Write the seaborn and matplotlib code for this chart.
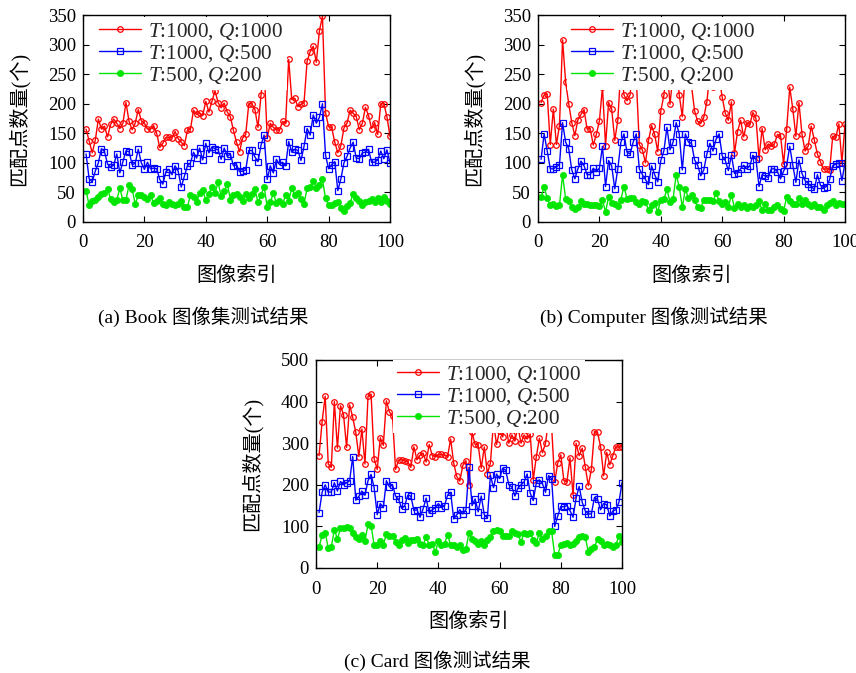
import numpy as np
import pandas as pd
import seaborn as sns
import matplotlib
matplotlib.use("Agg")
import matplotlib.pyplot as plt

# ---------------- data ----------------
image_index = list(range(1, 101))

book_t1000_q1000 = [157, 137, 117, 138, 174, 157, 162, 144, 165, 174,
                    167, 158, 167, 202, 170, 156, 167, 190, 171, 167,
                    157, 157, 163, 150, 126, 133, 143, 143, 142, 153,
                    141, 135, 129, 155, 157, 189, 182, 184, 180, 204,
                    186, 204, 222, 202, 193, 201, 186, 178, 155, 135,
                    119, 142, 148, 200, 200, 190, 160, 215, 262, 142,
                    167, 160, 156, 155, 170, 167, 275, 207, 209, 195,
                    199, 202, 272, 288, 297, 270, 323, 348, 185, 161,
                    160, 135, 117, 129, 159, 167, 189, 184, 178, 156,
                    167, 194, 180, 158, 168, 148, 200, 200, 178, 145]
book_t1000_q500 = [115, 73, 68, 86, 100, 124, 119, 98, 93, 96,
                   115, 83, 102, 120, 119, 97, 99, 123, 100, 89,
                   101, 90, 91, 90, 72, 64, 85, 89, 80, 95,
                   86, 59, 77, 95, 100, 118, 108, 125, 105, 133,
                   117, 127, 124, 122, 106, 125, 111, 115, 95, 97,
                   85, 86, 88, 121, 121, 110, 102, 130, 147, 72,
                   95, 83, 106, 97, 101, 95, 136, 118, 123, 121,
                   104, 128, 158, 147, 181, 167, 177, 200, 113, 90,
                   97, 102, 53, 73, 100, 111, 125, 135, 108, 107,
                   117, 118, 123, 101, 101, 105, 120, 107, 122, 100]
book_t500_q200 = [53, 28, 35, 38, 42, 47, 49, 56, 39, 33,
                  37, 57, 37, 38, 62, 55, 31, 45, 45, 42,
                  39, 45, 32, 36, 41, 31, 28, 33, 31, 28,
                  31, 35, 25, 25, 46, 43, 33, 49, 54, 37,
                  47, 60, 49, 67, 44, 52, 65, 38, 46, 48,
                  42, 36, 48, 40, 48, 56, 33, 46, 60, 25,
                  33, 49, 32, 35, 30, 45, 36, 57, 45, 49,
                  39, 31, 57, 59, 69, 58, 63, 72, 40, 28,
                  29, 32, 34, 24, 18, 27, 32, 48, 40, 36,
                  28, 33, 35, 39, 34, 40, 33, 43, 36, 30]

computer_t1000_q1000 = [202, 215, 216, 131, 191, 131, 163, 308, 237, 200,
                        168, 146, 173, 182, 190, 157, 158, 130, 148, 171,
                        228, 129, 202, 191, 138, 172, 262, 215, 205, 215,
                        268, 245, 131, 122, 100, 138, 163, 148, 119, 188,
                        214, 262, 199, 252, 270, 215, 178, 255, 242, 230,
                        188, 170, 167, 177, 203, 252, 229, 262, 245, 211,
                        184, 172, 203, 116, 153, 172, 144, 168, 165, 185,
                        175, 108, 158, 122, 132, 128, 132, 148, 146, 98,
                        157, 228, 191, 145, 202, 148, 120, 128, 162, 139,
                        115, 102, 89, 90, 88, 145, 143, 166, 100, 165]
computer_t1000_q500 = [106, 149, 120, 90, 90, 93, 97, 168, 135, 124,
                       88, 73, 90, 103, 95, 80, 80, 91, 85, 91,
                       128, 60, 104, 95, 56, 90, 135, 149, 118, 115,
                       135, 149, 90, 80, 72, 63, 95, 80, 68, 104,
                       120, 160, 122, 135, 168, 149, 88, 149, 135, 133,
                       105, 96, 78, 88, 115, 133, 120, 140, 149, 112,
                       104, 87, 113, 82, 83, 90, 96, 90, 95, 113,
                       106, 60, 80, 78, 75, 90, 90, 85, 73, 86,
                       96, 128, 96, 67, 105, 82, 70, 65, 60, 55,
                       80, 62, 58, 60, 72, 95, 98, 100, 70, 100]
computer_t500_q200 = [42, 60, 40, 28, 30, 27, 28, 80, 39, 35,
                      25, 22, 25, 35, 30, 30, 29, 28, 28, 27,
                      37, 17, 42, 32, 30, 27, 38, 60, 39, 40,
                      40, 33, 30, 36, 34, 20, 28, 32, 17, 38,
                      39, 55, 34, 39, 80, 60, 25, 56, 40, 45,
                      37, 25, 24, 38, 37, 38, 35, 49, 35, 30,
                      34, 25, 46, 24, 30, 26, 28, 24, 27, 25,
                      28, 35, 20, 30, 20, 20, 25, 28, 22, 18,
                      43, 36, 30, 30, 41, 30, 38, 30, 27, 30,
                      26, 25, 20, 28, 32, 35, 28, 32, 30, 30]

card_t1000_q1000 = [270, 352, 413, 250, 242, 400, 288, 390, 368, 290,
                    392, 362, 326, 268, 334, 250, 413, 418, 263, 237,
                    313, 295, 402, 375, 365, 237, 260, 260, 258, 255,
                    242, 291, 260, 271, 276, 255, 297, 270, 268, 273,
                    273, 272, 268, 310, 252, 220, 209, 247, 258, 200,
                    326, 297, 296, 240, 291, 227, 252, 350, 297, 330,
                    315, 345, 300, 320, 305, 340, 300, 320, 310, 322,
                    212, 268, 312, 277, 300, 355, 340, 207, 252, 272,
                    210, 207, 265, 175, 300, 270, 288, 243, 198, 238,
                    328, 326, 292, 222, 278, 248, 270, 292, 290, 292]
card_t1000_q500 = [133, 182, 200, 182, 183, 205, 185, 208, 200, 205,
                   210, 268, 163, 172, 185, 175, 210, 225, 193, 128,
                   155, 145, 210, 195, 200, 173, 165, 143, 150, 175,
                   173, 138, 140, 122, 142, 168, 132, 140, 145, 155,
                   145, 150, 175, 182, 118, 128, 140, 130, 140, 242,
                   150, 166, 135, 173, 128, 120, 223, 193, 226, 215,
                   240, 235, 200, 195, 173, 192, 200, 207, 226, 180,
                   162, 205, 212, 203, 182, 222, 215, 100, 125, 148,
                   147, 150, 138, 122, 168, 196, 158, 137, 130, 130,
                   170, 165, 140, 155, 152, 125, 137, 140, 158, 205]
card_t500_q200 = [50, 80, 85, 48, 50, 92, 70, 95, 97, 98,
                  97, 85, 75, 70, 80, 65, 105, 102, 55, 55,
                  65, 55, 82, 78, 78, 62, 55, 68, 72, 60,
                  68, 68, 70, 57, 55, 75, 55, 58, 38, 65,
                  55, 58, 80, 55, 55, 50, 55, 43, 45, 85,
                  70, 65, 58, 65, 55, 68, 75, 88, 92, 90,
                  78, 78, 78, 88, 85, 82, 62, 85, 82, 85,
                  68, 60, 85, 70, 78, 90, 88, 32, 32, 55,
                  58, 60, 55, 58, 65, 75, 78, 75, 38, 45,
                  50, 70, 65, 55, 58, 55, 50, 55, 78, 62]

series_labels = ["$T$:1000, $Q$:1000", "$T$:1000, $Q$:500", "$T$:500, $Q$:200"]
x_ticks = [0, 20, 40, 60, 80, 100]
y_label = "匹配点数量(个)"
x_label = "图像索引"
captions = ["(a) Book 图像集测试结果", "(b) Computer 图像测试结果", "(c) Card 图像测试结果"]

# ---------------- style ----------------
sns.set_theme(style="white")
plt.rcParams["font.family"] = ["Liberation Serif", "Noto Sans CJK SC"]
plt.rcParams["mathtext.fontset"] = "custom"
plt.rcParams["mathtext.rm"] = "Liberation Serif"
plt.rcParams["mathtext.it"] = "Liberation Serif:italic"
plt.rcParams["axes.unicode_minus"] = False

W, H = 856, 673
fig = plt.figure(figsize=(W / 100, H / 100), dpi=100)
fig.patch.set_facecolor("white")

styles = [
    dict(color="#ff0000", marker="o", markerfacecolor="none", markeredgecolor="#ff0000",
         markersize=4, markeredgewidth=0.9),
    dict(color="#0000ff", marker="s", markerfacecolor="none", markeredgecolor="#0000ff",
         markersize=4.2, markeredgewidth=0.9),
    dict(color="#00e600", marker="o", markerfacecolor="#00e600", markeredgecolor="#00e600",
         markersize=4.5, markeredgewidth=0.5),
]


def px_axes(left, top, right, bottom):
    return fig.add_axes([left / W, 1 - bottom / H, (right - left) / W, (bottom - top) / H])


panels = [
    dict(box=(83, 15, 390, 222), data=[book_t1000_q1000, book_t1000_q500, book_t500_q200],
         ymax=350, ystep=50, leg_x=12, leg_y=2, cap=(203, 317)),
    dict(box=(538, 15, 845, 222), data=[computer_t1000_q1000, computer_t1000_q500, computer_t500_q200],
         ymax=350, ystep=50, leg_x=29, leg_y=2, cap=(654, 317)),
    dict(box=(316, 360, 622, 568), data=[card_t1000_q1000, card_t1000_q500, card_t500_q200],
         ymax=500, ystep=100, leg_x=77, leg_y=0, cap=(437, 661)),
]

for p, cap in zip(panels, captions):
    l, t, r, b = p["box"]
    ax = px_axes(l, t, r, b)
    aw, ah = r - l, b - t
    for vals, lab, st in zip(p["data"], series_labels, styles):
        df = pd.DataFrame({"idx": image_index, "n": vals})
        sns.lineplot(data=df, x="idx", y="n", ax=ax, label=lab, linewidth=1.0, **st)
    ax.set_xlim(0, 100)
    ax.set_ylim(0, p["ymax"])
    ax.set_xticks(x_ticks)
    ax.set_yticks(np.arange(0, p["ymax"] + 1, p["ystep"]))
    ax.tick_params(direction="in", top=True, right=True, bottom=True, left=True,
                   length=4, width=0.8, labelsize=13.5, pad=5, colors="black")
    ax.tick_params(axis="x", pad=9)
    for sp in ax.spines.values():
        sp.set_color("black")
        sp.set_linewidth(1.0)
    ax.set_xlabel(x_label, fontsize=14.5, color="black")
    ax.set_ylabel(y_label, fontsize=14.5, color="black")
    ax.xaxis.set_label_coords(0.5, -0.215)
    ax.yaxis.set_label_coords(-53 / aw, 0.5)
    leg = ax.legend(loc="upper left",
                    bbox_to_anchor=(p["leg_x"] / aw, 1 - p["leg_y"] / ah),
                    fontsize=15.2, frameon=True, fancybox=False, framealpha=1,
                    facecolor="white", edgecolor="none", borderpad=0.2,
                    labelspacing=0.05, handlelength=2.0, handletextpad=0.3,
                    borderaxespad=0)
    leg.set_zorder(5)
    fig.text(p["cap"][0] / W, 1 - p["cap"][1] / H, cap, ha="center", va="center",
             fontsize=14, color="black")

fig.savefig("out.png", dpi=100, facecolor="white")
